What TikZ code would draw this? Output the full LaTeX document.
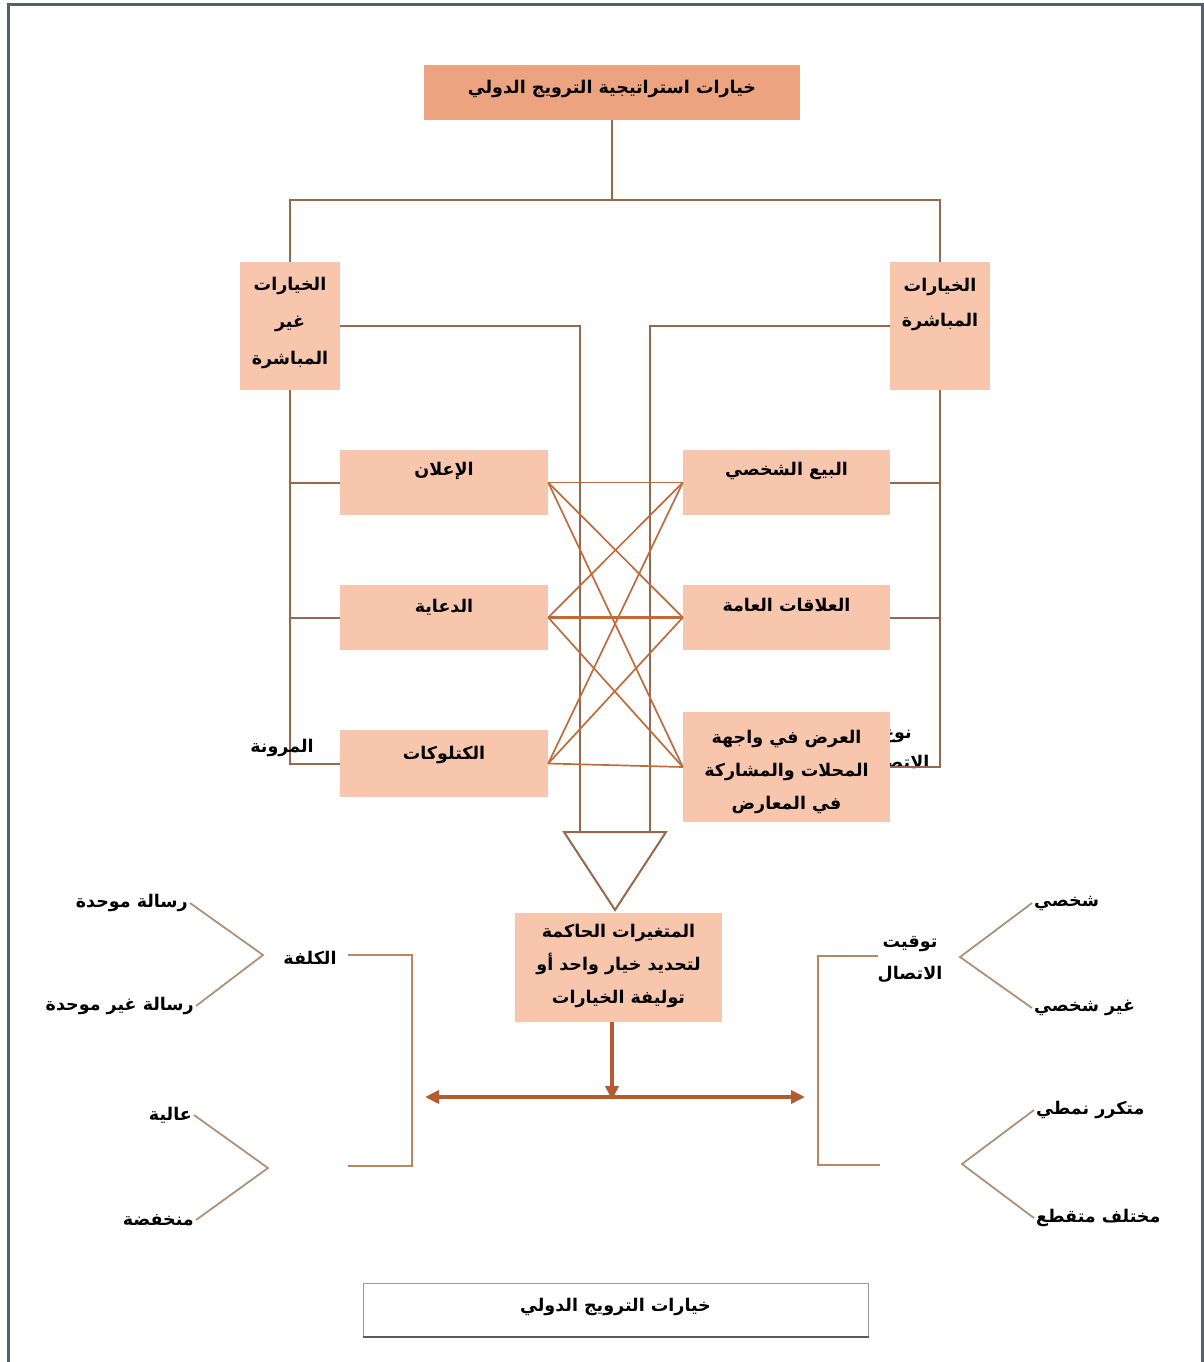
\documentclass[tikz,border=0pt]{standalone}
\usepackage{fontspec}
\TeXXeTstate=1
\newfontfamily\arabicfont[Script=Arabic]{DejaVu Sans}
\usetikzlibrary{arrows.meta}
\newcommand{\ar}[1]{\beginR #1\endR}
\definecolor{topfill}{RGB}{236,164,128}
\definecolor{boxfill}{RGB}{248,198,172}
\definecolor{treeline}{RGB}{150,105,78}
\definecolor{crossline}{RGB}{190,108,60}
\definecolor{thickarrow}{RGB}{178,92,48}
\definecolor{bracketline}{RGB}{185,135,100}
\definecolor{angleline}{RGB}{175,145,120}
\definecolor{framecol}{RGB}{85,96,106}
\tikzset{
  txt/.style={font=\arabicfont\bfseries\fontsize{17.5}{34}\selectfont, inner sep=2pt, align=center, text=black},
  boxdark/.style={fill=topfill, draw=none, inner sep=0pt},
  boxlight/.style={fill=boxfill, draw=none, inner sep=0pt},
  tree/.style={draw=treeline, line width=2pt},
  cross/.style={draw=crossline, line width=1.7pt},
  bracket/.style={draw=bracketline, line width=2pt},
  angle/.style={draw=angleline, line width=1.8pt},
  bigarrow/.style={draw=thickarrow, line width=3.5pt, -{Triangle[length=14pt,width=13pt]}},
  bigdarrow/.style={draw=thickarrow, line width=3.5pt, {Triangle[length=14pt,width=13pt]}-{Triangle[length=14pt,width=13pt]}},
}
\begin{document}
\begin{tikzpicture}[x=1pt,y=-1pt]
\useasboundingbox (0,0) rectangle (1204,1362);
% frame
\coordinate (f1) at (8,1362);
\coordinate (f2) at (8,5);
\coordinate (f3) at (1202,5);
\coordinate (f4) at (1202,1362);
\draw[framecol, line width=3pt] (f1) -- (f2) -- (f3) -- (f4);

% partly hidden label (covered by the display box)
\node[txt] (comm) at (897,750) {\ar{نوع}\\[-4pt]\ar{الاتصال}};

% top box
\node[boxdark, minimum width=376pt, minimum height=55pt] (top) at (612,92.5) {};
\node[txt] (topT) at (612,89) {\ar{خيارات استراتيجية الترويج الدولي}};

% upper side boxes
\node[boxlight, minimum width=100pt, minimum height=128pt] (L) at (290,326) {};
\node[txt] (LT) at (290,323) {\ar{الخيارات}\\[3pt]\ar{غير}\\[3pt]\ar{المباشرة}};
\node[boxlight, minimum width=100pt, minimum height=128pt] (R) at (940,326) {};
\node[txt] (RT) at (940,304) {\ar{الخيارات}\\[1pt]\ar{المباشرة}};

% middle boxes left
\node[boxlight, minimum width=208pt, minimum height=65pt] (ad) at (444,482.5) {};
\node[txt] (adT) at (444,471) {\ar{الإعلان}};
\node[boxlight, minimum width=208pt, minimum height=65pt] (prop) at (444,617.5) {};
\node[txt] (propT) at (444,607) {\ar{الدعاية}};
\node[boxlight, minimum width=208pt, minimum height=67pt] (cat) at (444,763.5) {};
\node[txt] (catT) at (444,755) {\ar{الكتلوكات}};

% middle boxes right
\node[boxlight, minimum width=207pt, minimum height=65pt] (sales) at (786.5,482.5) {};
\node[txt] (salesT) at (786.5,471) {\ar{البيع الشخصي}};
\node[boxlight, minimum width=207pt, minimum height=65pt] (pr) at (786.5,617.5) {};
\node[txt] (prT) at (786.5,605) {\ar{العلاقات العامة}};
\node[boxlight, minimum width=207pt, minimum height=110pt] (disp) at (786.5,767) {};
\node[txt] (dispT) at (786.5,772) {\ar{العرض في واجهة}\\[-1pt]\ar{المحلات والمشاركة}\\[-1pt]\ar{في المعارض}};

% tree connectors
\coordinate (hub) at (612,200);
\draw[tree] (top.south) -- (hub);
\draw[tree] (L.north) |- (hub) -| (R.north);
\coordinate (vL) at (580,832);
\coordinate (vR) at (650,832);
\draw[tree] (L.east) -| (vL);
\draw[tree] (R.west) -| (vR);
\draw[tree] (L.south) |- (cat.west);
\draw[tree] (L.south |- ad.west) -- (ad.west);
\draw[tree] (L.south |- prop.west) -- (prop.west);
\draw[tree] (R.south) |- (disp.east);
\draw[tree] (R.south |- sales.east) -- (sales.east);
\draw[tree] (R.south |- pr.east) -- (pr.east);

% cross connectors
\foreach \a in {ad,prop,cat}{
  \foreach \b in {sales,pr,disp}{
    \draw[cross] (\a.east) -- (\b.west);
  }
}
\draw[cross, line width=3.5pt] (prop.east) -- (pr.west);

\node[txt] (flex) at (282,748) {\ar{المرونة}};

% hollow arrow (triangle)
\coordinate (triA) at (564,832);
\coordinate (triB) at (666,832);
\coordinate (triC) at (615,910);
\draw[tree, fill=white, line join=miter] (triA) -- (triB) -- (triC) -- cycle;

% deciding variables box
\node[boxlight, minimum width=207pt, minimum height=109pt] (var) at (618.5,967.5) {};
\node[txt] (varT) at (618.5,966) {\ar{المتغيرات الحاكمة}\\[-1pt]\ar{لتحديد خيار واحد أو}\\[-1pt]\ar{توليفة الخيارات}};

% arrows
\coordinate (dl) at (425,1097);
\coordinate (dr) at (805,1097);
\draw[bigdarrow] (dl) -- (dr);
\draw[bigarrow] (var.south -| 612,0) -- ([yshift=-3pt]612,1097);

% left bracket
\node[txt] (cost) at (310,958) {\ar{الكلفة}};
\coordinate (costTop) at (348,955);
\coordinate (costMid) at (412,1060);
\coordinate (costBot) at (348,1166);
\draw[bracket] (costTop) -| (costMid) |- (costBot);

% right bracket
\node[txt] (timing) at (910,960) {\ar{توقيت}\\[-2pt]\ar{الاتصال}};
\coordinate (timTop) at (878,956);
\coordinate (timMid) at (818,1060);
\coordinate (timBot) at (880,1165);
\draw[bracket] (timTop) -| (timMid) |- (timBot);

% left angles
\node[txt, anchor=east] (m1) at (190,903) {\ar{رسالة موحدة}};
\node[txt, anchor=east] (m2) at (196,1006) {\ar{رسالة غير موحدة}};
\coordinate (va1) at (263,955);
\draw[angle] (m1.east) -- (va1) -- (m2.east);
\node[txt, anchor=east] (h1) at (194,1115) {\ar{عالية}};
\node[txt, anchor=east] (h2) at (196,1220) {\ar{منخفضة}};
\coordinate (va2) at (268,1168);
\draw[angle] (h1.east) -- (va2) -- (h2.east);

% right angles
\node[txt, anchor=west] (p1) at (1032,903) {\ar{شخصي}};
\node[txt, anchor=west] (p2) at (1032,1008) {\ar{غير شخصي}};
\coordinate (vb1) at (960,957);
\draw[angle] (p1.west) -- (vb1) -- (p2.west);
\node[txt, anchor=west] (q1) at (1034,1110) {\ar{متكرر نمطي}};
\node[txt, anchor=west] (q2) at (1034,1218) {\ar{مختلف متقطع}};
\coordinate (vb2) at (962,1164);
\draw[angle] (q1.west) -- (vb2) -- (q2.west);

% caption box
\node[draw=gray!80, line width=1pt, fill=white, minimum width=505pt, minimum height=53pt, inner sep=0pt] (caption) at (615.5,1309.5) {};
\draw[gray!70!black, line width=2pt] (caption.south west) -- (caption.south east);
\node[txt] (captionT) at (615.5,1307) {\ar{خيارات الترويج الدولي}};
\end{tikzpicture}
\end{document}
